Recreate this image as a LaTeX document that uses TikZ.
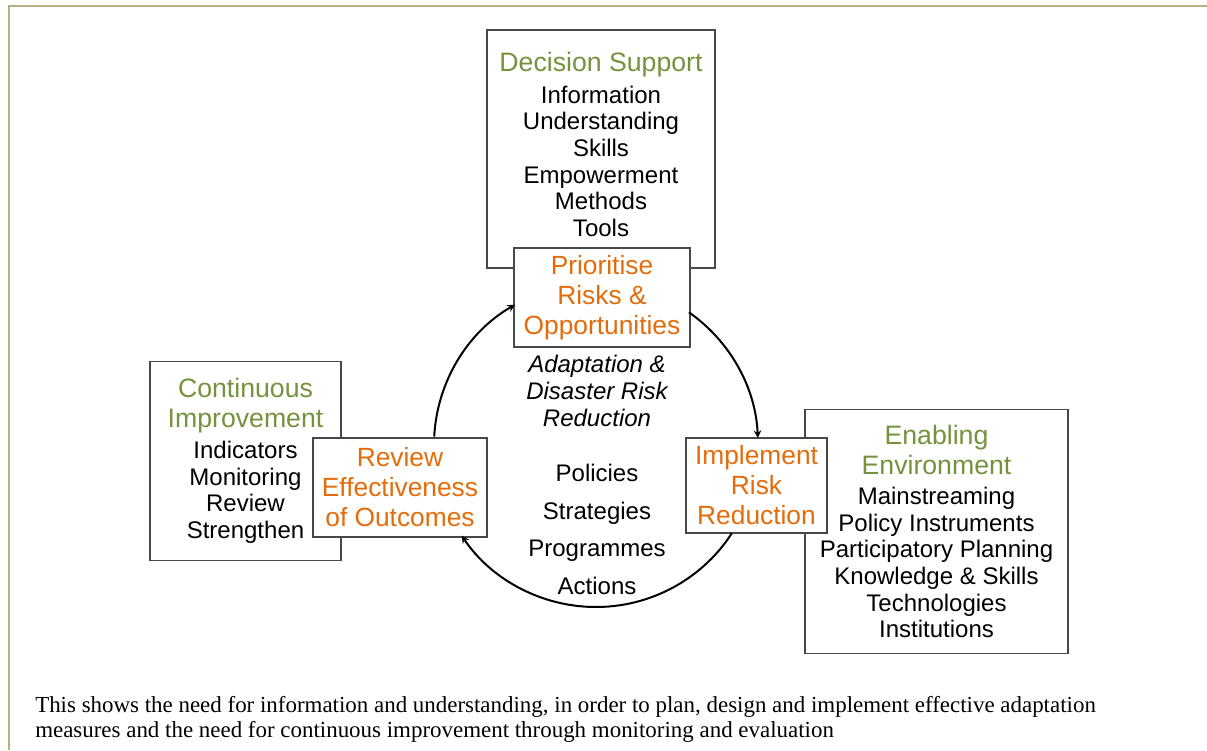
\documentclass[tikz,border=0pt]{standalone}
\usepackage{fontspec}
\setmainfont{Liberation Sans}
\newfontfamily\captionfont{Liberation Serif}
\usetikzlibrary{arrows}

\definecolor{framegold}{RGB}{184,176,128}
\definecolor{boxgray}{RGB}{72,72,72}
\definecolor{headgreen}{RGB}{118,146,60}
\definecolor{stageorange}{RGB}{228,108,10}

\newcommand{\head}[1]{\textcolor{headgreen}{\fontsize{20}{20}\selectfont #1}}

\tikzset{
  panel/.style={draw=boxgray,line width=0.8pt,fill=white,align=center,inner sep=0pt,
    font=\fontsize{18}{20}\selectfont},
  stage/.style={panel,text=stageorange,font=\fontsize{19.75}{22.5}\selectfont},
  ring/.style={line width=1.5pt,-stealth}
}

\begin{document}
\begin{tikzpicture}[x=0.75pt,y=0.75pt]
  \useasboundingbox (0,0) rectangle (1207,-750);
  \draw[framegold,line width=1.6pt] (1207,-6) -- (9,-6) -- (9,-750);

  \node[panel,minimum width=171pt,minimum height=178.5pt,text depth=7pt] (support) at (601,-149)
    {\head{Decision Support}\\[4pt]Information\\Understanding\\Skills\\Empowerment\\Methods\\Tools};
  \node[panel,minimum width=143.25pt,minimum height=149.25pt] (improve) at (245.5,-461)
    {\head{Continuous}\\[2.5pt]\head{Improvement}\\[3pt]Indicators\\Monitoring\\Review\\Strengthen};
  \node[panel,minimum width=197.25pt,minimum height=183pt] (enabling) at (936.5,-531.5)
    {\head{Enabling}\\[2.5pt]\head{Environment}\\[2.5pt]Mainstreaming\\Policy Instruments\\Participatory Planning\\Knowledge \& Skills\\Technologies\\Institutions};

  \node[stage,minimum width=132pt,minimum height=74.25pt] (prioritise) at (602,-297.5)
    {Prioritise\\Risks \&\\Opportunities};
  \node[stage,minimum width=130.5pt,minimum height=74.25pt] (review) at (400,-487.5)
    {Review\\Effectiveness\\of Outcomes};
  \node[stage,minimum width=105.75pt,minimum height=71.25pt] (implement) at (756.5,-485.5)
    {Implement\\Risk\\Reduction};

  \node[align=center,font=\fontsize{18}{20}\selectfont\itshape] (drr) at (597,-391)
    {Adaptation \&\\Disaster Risk\\Reduction};
  \node[align=center,font=\fontsize{18}{28.3}\selectfont] (actions) at (597,-529.5)
    {Policies\\Strategies\\Programmes\\Actions};

  \coordinate (ring) at (596,-445);
  \foreach \a/\b in {177/120,55/2.5,-33/-146}
    \draw[ring] (ring) ++(\a:162) arc[start angle=\a,end angle=\b,radius=162];

  \node[anchor=base west,align=left,inner sep=0pt,font=\captionfont\fontsize{17.2}{18.75}\selectfont] (caption) at (35,-737)
    {This shows the need for information and understanding, in order to plan, design and implement effective adaptation\\
     measures and the need for continuous improvement through monitoring and evaluation};
\end{tikzpicture}
\end{document}
